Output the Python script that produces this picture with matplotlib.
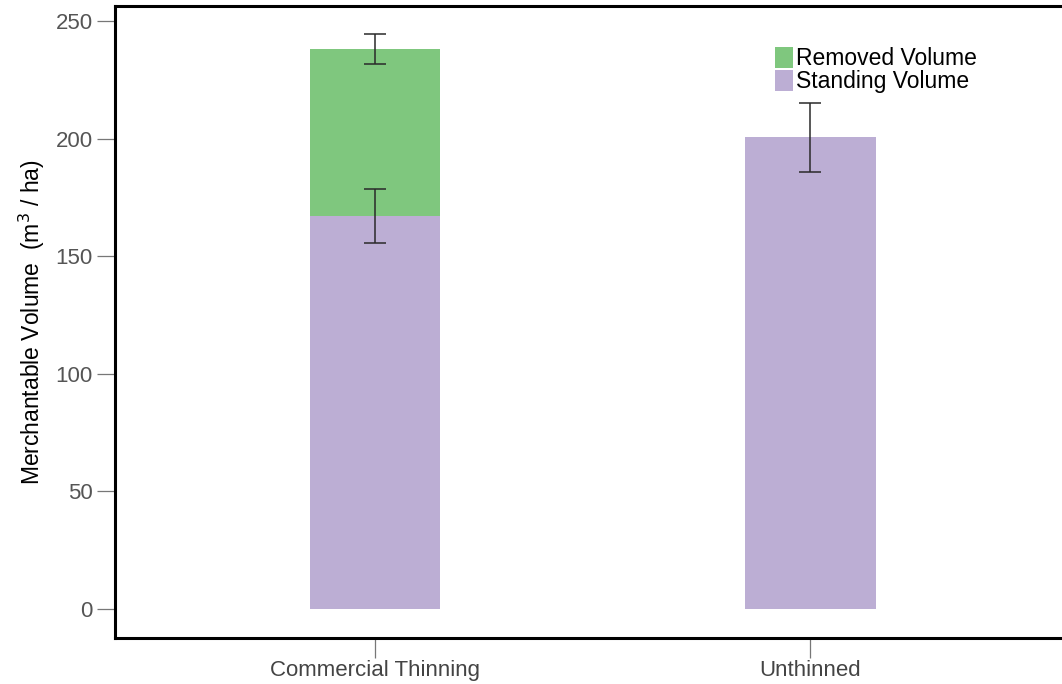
import matplotlib
matplotlib.use("Agg")
import matplotlib.pyplot as plt
import numpy as np

plt.rcParams['font.family'] = ['Liberation Sans', 'DejaVu Sans']

categories = ["Commercial Thinning", "Unthinned"]
standing = [167, 200.5]
standing_err = [11.5, 14.5]
removed = [71, 0]
total_err = [6.4, None]

green = "#7fc77e"
purple = "#bcaed4"

W, H = 1062, 684
fig = plt.figure(figsize=(W / 100, H / 100), dpi=100)
ax = fig.add_axes([115 / W, 1 - 638 / H, 1 - 115 / W + 0.01, (638 - 6) / H])

x = np.arange(len(categories))
width = 0.3
ax.bar(x, standing, width, color=purple, label="Standing Volume", zorder=2)
ax.bar(x[:1], removed[:1], width, bottom=standing[:1], color=green,
       label="Removed Volume", zorder=2)

err_kw = dict(fmt="none", ecolor="#2a2a2a", elinewidth=1.1, capsize=8,
              capthick=1.1, zorder=3)
ax.errorbar(x, standing, yerr=standing_err, **err_kw)
tot = standing[0] + removed[0]
ax.errorbar([x[0]], [tot], yerr=[total_err[0]], **err_kw)

ax.set_xlim(-0.598, 1.603)
ax.set_ylim(-12.3, 256.4)
ax.set_yticks([0, 50, 100, 150, 200, 250])
ax.set_xticks(x)
ax.set_xticklabels(categories)

for s in ["left", "top", "bottom"]:
    ax.spines[s].set_linewidth(2.2)
    ax.spines[s].set_color("black")
ax.spines["right"].set_visible(False)

ax.tick_params(axis="y", length=13, width=0.9, color="#777777",
               labelsize=16, labelcolor="#555555", pad=3)
ax.tick_params(axis="x", length=14.4, width=0.9, color="#777777",
               labelsize=16, labelcolor="#444444", pad=1.5)

ax.set_ylabel(r"Merchantable Volume  (m$^3$ / ha)", fontsize=16.5, labelpad=6)

handles, labels = ax.get_legend_handles_labels()
order = [1, 0]
ax.legend([handles[i] for i in order], [labels[i] for i in order],
          loc="upper left", bbox_to_anchor=(0.689, 0.935), frameon=False,
          fontsize=16.5, handlelength=0.8, handleheight=1.0,
          handletextpad=0.14, labelspacing=0.0, borderaxespad=0,
          borderpad=0)

fig.savefig("out.png", dpi=100)
